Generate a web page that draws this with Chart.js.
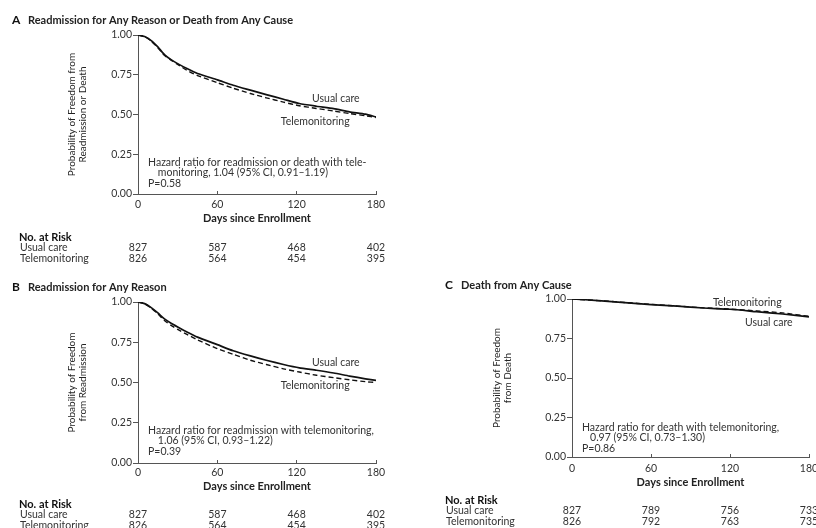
<!DOCTYPE html>
<html>
<head>
<meta charset="utf-8">
<script src="https://cdn.jsdelivr.net/npm/chart.js@4.4.1/dist/chart.umd.min.js"></script>
<style>
  body { margin: 0; background: #fff; width: 816px; height: 528px; overflow: hidden; position: relative; }
  canvas { position: absolute; }
</style>
</head>
<body>
<canvas id="panelA" width="410" height="265" style="left:0;top:0"></canvas>
<canvas id="panelB" width="410" height="263" style="left:0;top:265px"></canvas>
<canvas id="panelC" width="420" height="263" style="left:410px;top:265px"></canvas>
<script>
// days since enrollment at which the curves were read
const daysAB = [0, 5, 10, 15, 20, 25, 30, 37, 45, 60, 72, 85, 97, 110, 122, 135, 148, 160, 172, 180];
const usualA = [1.00, 0.99, 0.965, 0.925, 0.877, 0.845, 0.82, 0.789, 0.758, 0.718, 0.684, 0.653, 0.625, 0.596, 0.569, 0.552, 0.537, 0.517, 0.502, 0.485];
const teleA  = [1.00, 0.99, 0.962, 0.92, 0.872, 0.842, 0.815, 0.778, 0.745, 0.70, 0.665, 0.632, 0.605, 0.578, 0.555, 0.538, 0.522, 0.506, 0.492, 0.481];
const usualB = [1.00, 0.99, 0.965, 0.932, 0.895, 0.868, 0.845, 0.814, 0.782, 0.735, 0.697, 0.665, 0.638, 0.612, 0.591, 0.576, 0.559, 0.54, 0.523, 0.513];
const teleB  = [1.00, 0.99, 0.962, 0.927, 0.885, 0.855, 0.83, 0.799, 0.765, 0.71, 0.675, 0.638, 0.612, 0.585, 0.565, 0.545, 0.53, 0.517, 0.505, 0.50];
const daysC  = [0, 20, 40, 60, 80, 100, 120, 140, 160, 180];
const usualC = [1.00, 0.99, 0.977, 0.965, 0.955, 0.943, 0.935, 0.92, 0.905, 0.887];
const teleC  = [1.00, 0.99, 0.978, 0.966, 0.955, 0.944, 0.936, 0.925, 0.912, 0.89];

const riskDays = [0, 60, 120, 180];
const riskUsualAB = [827, 587, 468, 402];
const riskTeleAB  = [826, 564, 454, 395];
const riskUsualC  = [827, 789, 756, 733];
const riskTeleC   = [826, 792, 763, 735];

const FONT = 'Lato, "Open Sans", sans-serif';
const TXT = '#333';

function pts(days, vals) {
    return days.map((d, i) => ({ x: d, y: vals[i] }));
}

// texts drawn on top of each panel
const panelText = {
    id: 'panelText',
    afterDraw(chart, args, o) {
        const ctx = chart.ctx;
        const xs = chart.scales.x, ys = chart.scales.y;
        ctx.save();
        ctx.textBaseline = 'middle';
        // panel title
        ctx.font = 'bold 12px ' + FONT;
        ctx.fillStyle = '#111';
        ctx.fillText(o.letter, o.titleX, o.titleY);
        ctx.font = 'bold 11px ' + FONT;
        ctx.fillStyle = '#222';
        ctx.fillText(o.title, o.titleX + 16, o.titleY);
        // hazard ratio note + curve labels, placed in data units
        ctx.font = '10.5px ' + FONT;
        ctx.fillStyle = TXT;
        o.notes.forEach(n => {
            ctx.fillText(n.text, xs.getPixelForValue(n.x), ys.getPixelForValue(n.y));
        });
        // number at risk
        ctx.font = 'bold 11px ' + FONT;
        ctx.fillStyle = '#111';
        ctx.fillText('No. at Risk', o.riskX, o.riskY);
        ctx.font = '10.5px ' + FONT;
        ctx.fillStyle = TXT;
        ctx.fillText('Usual care', o.riskX + 1, o.riskY + 11);
        ctx.fillText('Telemonitoring', o.riskX + 1, o.riskY + 22);
        ctx.textAlign = 'center';
        riskDays.forEach((d, i) => {
            const px = xs.getPixelForValue(d);
            ctx.fillText(String(o.usual[i]), px, o.riskY + 11);
            ctx.fillText(String(o.tele[i]), px, o.riskY + 22);
        });
        ctx.restore();
    }
};

function makePanel(id, p) {
    return new Chart(document.getElementById(id), {
        type: 'line',
        data: {
            datasets: [{
                label: 'Usual care',
                data: pts(p.days, p.usual),
                borderColor: '#111',
                borderWidth: 1.7,
                pointRadius: 0,
                tension: 0.2
            }, {
                label: 'Telemonitoring',
                data: pts(p.days, p.tele),
                borderColor: '#111',
                borderWidth: 1.4,
                borderDash: [5, 3],
                pointRadius: 0,
                tension: 0.2
            }]
        },
        options: {
            responsive: false,
            animation: false,
            layout: {
                padding: { left: p.padLeft, top: p.padTop, right: p.padRight, bottom: p.padBottom }
            },
            scales: {
                x: {
                    type: 'linear',
                    min: 0,
                    max: 180,
                    afterFit: s => { s.height = 36; },
                    afterBuildTicks: s => { s.ticks = riskDays.map(v => ({ value: v })); },
                    grid: { drawOnChartArea: false, tickLength: -3, color: '#555' },
                    border: { color: '#555', width: 1 },
                    ticks: { padding: p.xTickPad, color: TXT, font: { family: FONT, size: 10.5 }, maxRotation: 0 },
                    title: {
                        display: true,
                        text: 'Days since Enrollment',
                        color: '#222',
                        font: { family: FONT, size: 11, weight: 'bold' },
                        padding: { top: 0, bottom: p.xTitlePad }
                    }
                },
                y: {
                    min: 0,
                    max: 1,
                    afterFit: s => { s.width = p.yWidth; },
                    grid: { drawOnChartArea: false, tickLength: 5, color: '#555' },
                    border: { color: '#555', width: 1 },
                    ticks: {
                        stepSize: 0.25,
                        padding: 1,
                        color: TXT,
                        font: { family: FONT, size: 10.5 },
                        callback: v => v.toFixed(2)
                    },
                    title: {
                        display: true,
                        text: p.yTitle,
                        color: '#222',
                        font: { family: FONT, size: 10, lineHeight: 1.15 },
                        padding: { top: p.yTitlePad, bottom: 0 }
                    }
                }
            },
            plugins: {
                legend: { display: false },
                tooltip: { enabled: false },
                panelText: p.text
            }
        },
        plugins: [panelText]
    });
}

makePanel('panelA', {
    days: daysAB, usual: usualA, tele: teleA,
    padLeft: 0, padTop: 35, padRight: 34, padBottom: 35, yWidth: 138,
    xTickPad: 7, xTitlePad: 4.5, yTitlePad: 66,
    yTitle: ['Probability of Freedom from', 'Readmission or Death'],
    text: {
        letter: 'A', title: 'Readmission for Any Reason or Death from Any Cause', titleX: 12, titleY: 20,
        notes: [
            { text: 'Usual care', x: 131.6, y: 0.597 },
            { text: 'Telemonitoring', x: 108, y: 0.453 },
            { text: 'Hazard ratio for readmission or death with tele-', x: 7.6, y: 0.195 },
            { text: 'monitoring, 1.04 (95% CI, 0.91\u20131.19)', x: 15, y: 0.132 },
            { text: 'P=0.58', x: 7.6, y: 0.063 }
        ],
        riskX: 19, riskY: 237, usual: riskUsualAB, tele: riskTeleAB
    }
});

makePanel('panelB', {
    days: daysAB, usual: usualB, tele: teleB,
    padLeft: 0, padTop: 37, padRight: 34, padBottom: 29, yWidth: 138,
    xTickPad: 6, xTitlePad: 6, yTitlePad: 66,
    yTitle: ['Probability of Freedom', 'from Readmission'],
    text: {
        letter: 'B', title: 'Readmission for Any Reason', titleX: 12, titleY: 22,
        notes: [
            { text: 'Usual care', x: 131.6, y: 0.621 },
            { text: 'Telemonitoring', x: 108, y: 0.478 },
            { text: 'Hazard ratio for readmission with telemonitoring,', x: 7.6, y: 0.199 },
            { text: '1.06 (95% CI, 0.93\u20131.22)', x: 15, y: 0.137 },
            { text: 'P=0.39', x: 7.6, y: 0.068 }
        ],
        riskX: 19, riskY: 239, usual: riskUsualAB, tele: riskTeleAB
    }
});

makePanel('panelC', {
    days: daysC, usual: usualC, tele: teleC,
    padLeft: 0, padTop: 34, padRight: 21, padBottom: 35, yWidth: 162,
    xTickPad: 8, xTitlePad: 3.5, yTitlePad: 81,
    yTitle: ['Probability of Freedom', 'from Death'],
    text: {
        letter: 'C', title: 'Death from Any Cause', titleX: 35, titleY: 20,
        notes: [
            { text: 'Telemonitoring', x: 107, y: 0.978 },
            { text: 'Usual care', x: 131.4, y: 0.852 },
            { text: 'Hazard ratio for death with telemonitoring,', x: 7.6, y: 0.184 },
            { text: '0.97 (95% CI, 0.73\u20131.30)', x: 13.7, y: 0.12 },
            { text: 'P=0.86', x: 7.6, y: 0.051 }
        ],
        riskX: 35, riskY: 235, usual: riskUsualC, tele: riskTeleC
    }
});
</script>
</body>
</html>
